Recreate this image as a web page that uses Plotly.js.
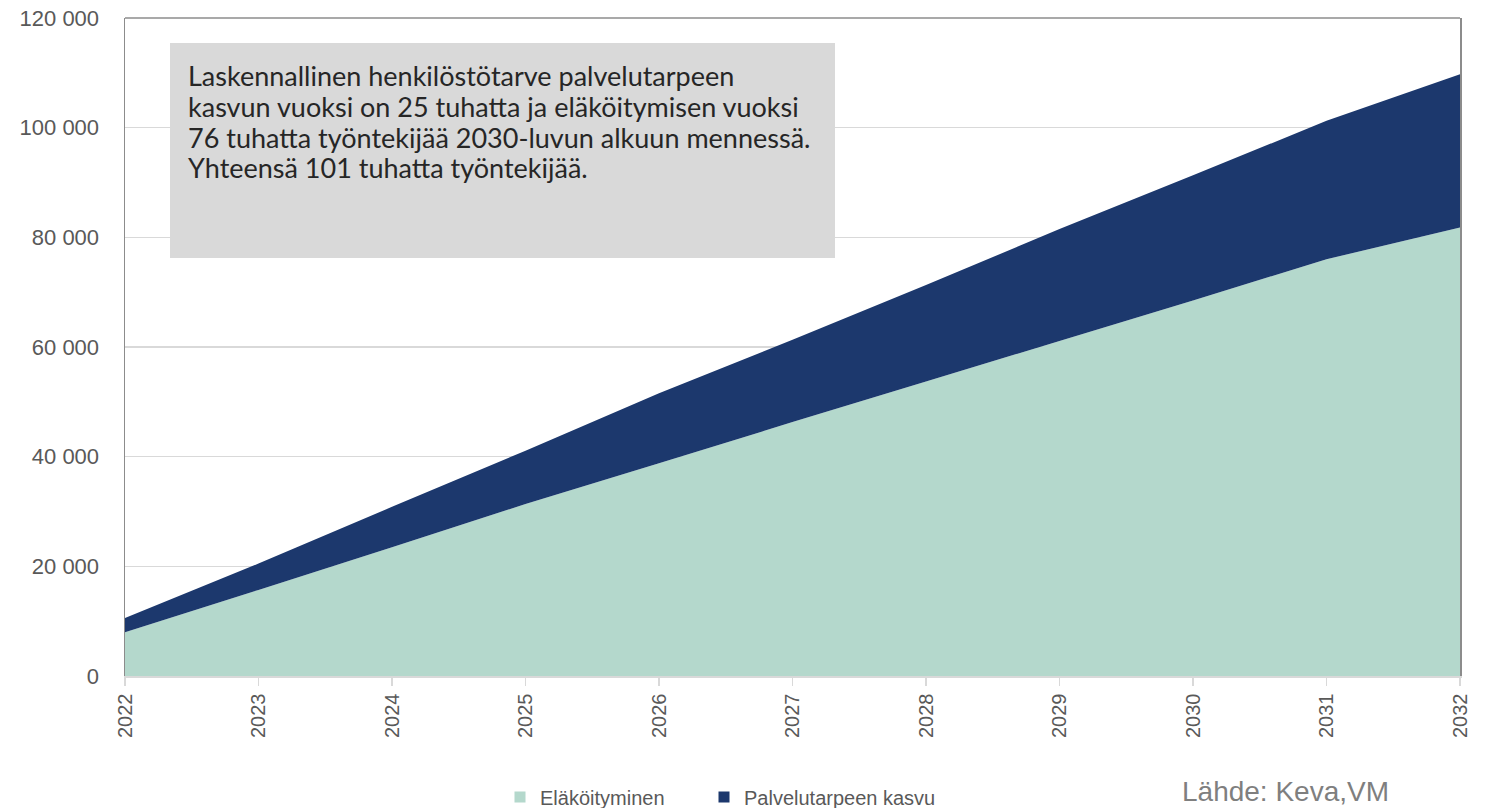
<!DOCTYPE html>
<html>
<head>
<meta charset="utf-8">
<script src="https://cdn.plot.ly/plotly-3.0.1.min.js"></script>
<style>html,body{margin:0;padding:0;background:#fff;}#chart{width:1488px;height:808px;}</style>
</head>
<body>
<div id="chart"></div>
<script>
const years = [2022, 2023, 2024, 2025, 2026, 2027, 2028, 2029, 2030, 2031, 2032];
const elakoityminen = [8000, 15700, 23500, 31350, 38800, 46300, 53700, 61100, 68500, 76000, 81800];
const palvelutarpeenKasvu = [2600, 4800, 7350, 9750, 12750, 15000, 17600, 20400, 22800, 25250, 27950];
const seriesNames = ["Eläköityminen", "Palvelutarpeen kasvu"];
const seriesColors = ["#b4d8cc", "#1c386d"];
const noteLines = [
  "Laskennallinen henkilöstötarve palvelutarpeen",
  "kasvun vuoksi on 25 tuhatta ja eläköitymisen vuoksi",
  "76 tuhatta työntekijää 2030-luvun alkuun mennessä.",
  "Yhteensä 101 tuhatta työntekijää."
];
const sourceText = "Lähde: Keva,VM";

const traces = [
  {x: years, y: elakoityminen, name: seriesNames[0], type: "scatter", mode: "none",
   stackgroup: "one", fillcolor: seriesColors[0], showlegend: false, legendgroup: "a"},
  {x: years, y: palvelutarpeenKasvu, name: seriesNames[1], type: "scatter", mode: "none",
   stackgroup: "one", fillcolor: seriesColors[1], showlegend: false, legendgroup: "b"},
  // legend-only entries (square swatches)
  {x: [null], y: [null], name: seriesNames[0], type: "scatter", mode: "markers",
   marker: {symbol: "square", size: 11, color: seriesColors[0]}, legendgroup: "a", legend: "legend"},
  {x: [null], y: [null], name: seriesNames[1], type: "scatter", mode: "markers",
   marker: {symbol: "square", size: 11, color: seriesColors[1]}, legendgroup: "b", legend: "legend2"}
];

const annotations = noteLines.map((t, i) => ({
  text: t, xref: "paper", yref: "paper", x: (186 - 125) / 1335, y: (676 - (75 + i * 31)) / 658,
  xanchor: "left", yanchor: "middle", showarrow: false, align: "left",
  font: {family: "Lato, 'Open Sans', sans-serif", size: 27, color: "#262626"}
}));
annotations.push({
  text: sourceText, xref: "paper", yref: "paper", x: (1180 - 125) / 1335, y: (676 - 791) / 658,
  xanchor: "left", yanchor: "middle", showarrow: false,
  font: {family: "Liberation Sans, Arial, sans-serif", size: 28, color: "#7f7f7f"}
});

const legendBase = {orientation: "h", xref: "container", yref: "container",
  xanchor: "left", y: (808 - 797) / 808, yanchor: "middle",
  font: {family: "'Liberation Sans', Arial, sans-serif", size: 20, color: "#595959"},
  itemwidth: 30, bgcolor: "rgba(0,0,0,0)"};

const layout = {
  width: 1488, height: 808,
  margin: {l: 125, r: 28, t: 18, b: 132, autoexpand: false},
  paper_bgcolor: "#ffffff", plot_bgcolor: "#ffffff",
  separators: ", ",
  font: {family: "Liberation Sans, Arial, sans-serif", size: 18, color: "#595959"},
  showlegend: true,
  legend: Object.assign({}, legendBase, {x: 500 / 1488}),
  legend2: Object.assign({}, legendBase, {x: 704 / 1488}),
  xaxis: {range: [2022, 2032], dtick: 1, tick0: 2022, tickangle: -90,
          showgrid: false, zeroline: false, showline: true, linecolor: "#d9d9d9", linewidth: 1.5,
          ticks: "outside", ticklen: 8, tickcolor: "#d9d9d9", tickwidth: 1.5,
          tickfont: {size: 20, color: "#595959"}},
  yaxis: {range: [0, 120000], dtick: 20000, tickformat: ",d",
          showgrid: true, gridcolor: "#d9d9d9", gridwidth: 1.5, zeroline: false,
          showline: true, linecolor: "#8c8c8c", linewidth: 1.5, mirror: true,
          ticks: "", ticklabelstandoff: 20, tickfont: {size: 22, color: "#595959"}},
  shapes: [
    {type: "line", xref: "paper", yref: "paper", x0: 0, x1: 1, y0: 1, y1: 1,
     line: {color: "#8c8c8c", width: 1.5}},
    {type: "rect", xref: "paper", yref: "paper",
     x0: (170 - 125) / 1335, x1: (835 - 125) / 1335,
     y0: (676 - 258) / 658, y1: (676 - 43) / 658,
     fillcolor: "#d9d9d9", line: {width: 0}, layer: "above"}
  ],
  annotations: annotations
};

Plotly.newPlot("chart", traces, layout, {displayModeBar: false, staticPlot: true});
</script>
</body>
</html>
